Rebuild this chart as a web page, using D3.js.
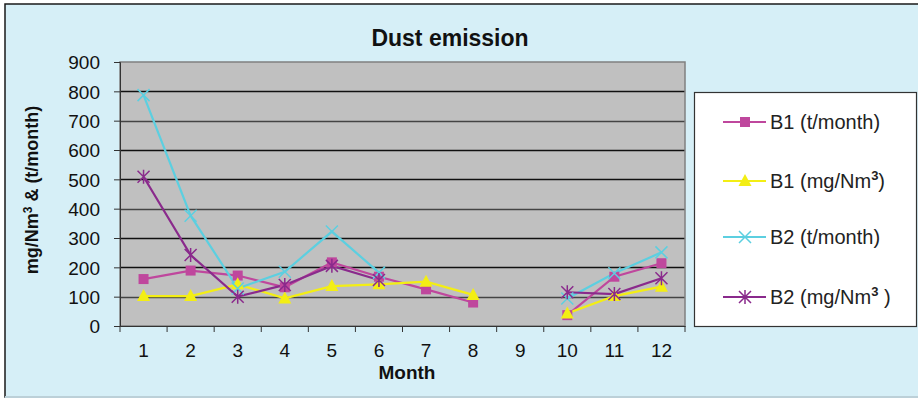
<!DOCTYPE html>
<html><head><meta charset="utf-8">
<script src="https://cdn.jsdelivr.net/npm/d3@7"></script>
<style>
html,body{margin:0;padding:0;background:#fff;}
svg{display:block;font-family:"Liberation Sans",Arial,sans-serif;}
</style></head>
<body>
<script>
const months = ["1","2","3","4","5","6","7","8","9","10","11","12"];
const yTicks = [0,100,200,300,400,500,600,700,800,900];
const b1Tonnes = [160,189,172,132,217,168,125,80,null,37,168,214];
const b1Conc   = [102,102,142,94,136,142,151,106,null,43,102,134];
const b2Tonnes = [787,376,128,185,322,182,null,null,null,94,180,251];
const b2Conc   = [509,242,100,140,205,157,null,null,null,115,109,163];
const seriesNames = ["B1", "B1", "B2", "B2"];
const seriesUnits = ["(t/month)", "(mg/Nm", "(t/month)", "(mg/Nm"];
const seriesColors = ["#bf479d","#f3ee14","#5ccfe0","#8a2a8c"];
const seriesMarkers = ["square","triangle","cross","asterisk"];
const seriesData = [b1Tonnes,b1Conc,b2Tonnes,b2Conc];

const W=918,H=398;
const svg=d3.select("body").append("svg").attr("width",W).attr("height",H);
svg.append("rect").attr("x",0).attr("y",0).attr("width",W).attr("height",H).attr("fill","#fff");
svg.append("rect").attr("x",5).attr("y",4).attr("width",W).attr("height",393)
  .attr("fill","#d6eff7").attr("stroke","#1a1a1a").attr("stroke-width",1.5);
svg.append("line").attr("x1",5).attr("x2",W).attr("y1",397).attr("y2",397).attr("stroke","#bcd0d8").attr("stroke-width",2);

const L=120,R=685,T=62,B=326;
const x=d3.scaleBand().domain(months).range([L,R]).padding(0);
const y=d3.scaleLinear().domain([0,900]).range([B,T]);

svg.append("rect").attr("x",L).attr("y",T).attr("width",R-L).attr("height",B-T).attr("fill","#c0c0c0");
// gridlines
svg.append("g").selectAll("line").data(yTicks.filter(d=>d>0&&d<900)).join("line")
  .attr("x1",L).attr("x2",R).attr("y1",d=>Math.round(y(d))+0.5).attr("y2",d=>Math.round(y(d))+0.5)
  .attr("stroke",(d,i)=>[1,4,7].includes(d/100)?"#444":"#111").attr("stroke-width",1.5);
svg.append("rect").attr("x",L).attr("y",T).attr("width",R-L).attr("height",B-T).attr("fill","none").attr("stroke","#808080").attr("stroke-width",1.5);

// y axis
const yAxis=d3.axisLeft(y).tickValues(yTicks).tickSize(6).tickPadding(14);
const gy=svg.append("g").attr("transform",`translate(${L},0)`).call(yAxis);
gy.select(".domain").attr("stroke","#333");
gy.selectAll(".tick line").attr("stroke","#333");
gy.selectAll("text").attr("font-size",19).attr("fill","#111").attr("dy","0.36em").attr("font-family","Liberation Sans, Arial, sans-serif");

// x axis
const xAxis=d3.axisBottom(x).tickSize(0).tickPadding(18);
const gx=svg.append("g").attr("transform",`translate(0,${B})`).call(xAxis);
gx.select(".domain").attr("stroke","#333");
gx.selectAll("text").attr("font-size",19).attr("fill","#111").attr("font-family","Liberation Sans, Arial, sans-serif");
const bounds=months.map(m=>x(m)).concat([R]);
svg.append("g").selectAll("line").data(bounds).join("line")
  .attr("x1",d=>d).attr("x2",d=>d).attr("y1",B).attr("y2",B+6).attr("stroke","#333");

// titles
svg.append("text").attr("x",450).attr("y",46).attr("text-anchor","middle").attr("font-weight","bold").attr("font-size",23).attr("fill","#111").text("Dust emission");
svg.append("text").attr("x",407).attr("y",379).attr("text-anchor","middle").attr("font-weight","bold").attr("font-size",19).attr("fill","#111").text("Month");
const yt=svg.append("text").attr("transform","translate(38,190) rotate(-90)").attr("text-anchor","middle").attr("font-weight","bold").attr("font-size",18).attr("fill","#111");
yt.append("tspan").text("mg/Nm");
yt.append("tspan").attr("font-size",12).attr("dy",-6).text("3");
yt.append("tspan").attr("dy",6).text(" & (t/month)");

function marker(g,type,color,cx,cy){
  if(type==="square"){
    g.append("rect").attr("x",cx-5).attr("y",cy-5).attr("width",10).attr("height",10).attr("fill",color);
  } else if(type==="triangle"){
    g.append("path").attr("d",`M${cx},${cy-7}L${cx+6.5},${cy+5}L${cx-6.5},${cy+5}Z`).attr("fill",color);
  } else if(type==="cross"){
    g.append("path").attr("d",`M${cx-6},${cy-6}L${cx+6},${cy+6}M${cx-6},${cy+6}L${cx+6},${cy-6}`).attr("stroke",color).attr("stroke-width",1.5);
  } else {
    g.append("path").attr("d",`M${cx-6},${cy-6}L${cx+6},${cy+6}M${cx-6},${cy+6}L${cx+6},${cy-6}M${cx},${cy-7}L${cx},${cy+7}`).attr("stroke",color).attr("stroke-width",1.5);
  }
}

const line=d3.line().defined(d=>d.v!=null).x(d=>x(d.m)+x.bandwidth()/2).y(d=>y(d.v));
const plot=svg.append("g");
seriesData.forEach((arr,i)=>{
  const pts=arr.map((v,j)=>({m:months[j],v}));
  plot.append("path").datum(pts).attr("d",line).attr("fill","none").attr("stroke",seriesColors[i]).attr("stroke-width",2.2);
});
seriesData.forEach((arr,i)=>{
  const g=plot.append("g");
  arr.forEach((v,j)=>{ if(v!=null) marker(g,seriesMarkers[i],seriesColors[i],x(months[j])+x.bandwidth()/2,y(v)); });
});

// legend
svg.append("rect").attr("x",694.5).attr("y",92.5).attr("width",222).attr("height",234).attr("fill","#fff").attr("stroke","#333").attr("stroke-width",1.2);
const ly=[122,181,237,297];
seriesData.forEach((arr,i)=>{
  const g=svg.append("g");
  g.append("line").attr("x1",723).attr("x2",766).attr("y1",ly[i]).attr("y2",ly[i]).attr("stroke",seriesColors[i]).attr("stroke-width",2);
  marker(g,seriesMarkers[i],seriesColors[i],745,ly[i]);
  const t=g.append("text").attr("x",770).attr("y",ly[i]+7).attr("font-size",20).attr("fill","#222");
  t.append("tspan").text(seriesNames[i]+" "+seriesUnits[i]);
  if(seriesUnits[i].startsWith("(mg")){
    t.append("tspan").attr("font-size",13).attr("font-weight","bold").attr("dy",-8).text("3");
    t.append("tspan").attr("dy",8).text(i===3?" )":")");
  }
});
</script>
</body></html>
